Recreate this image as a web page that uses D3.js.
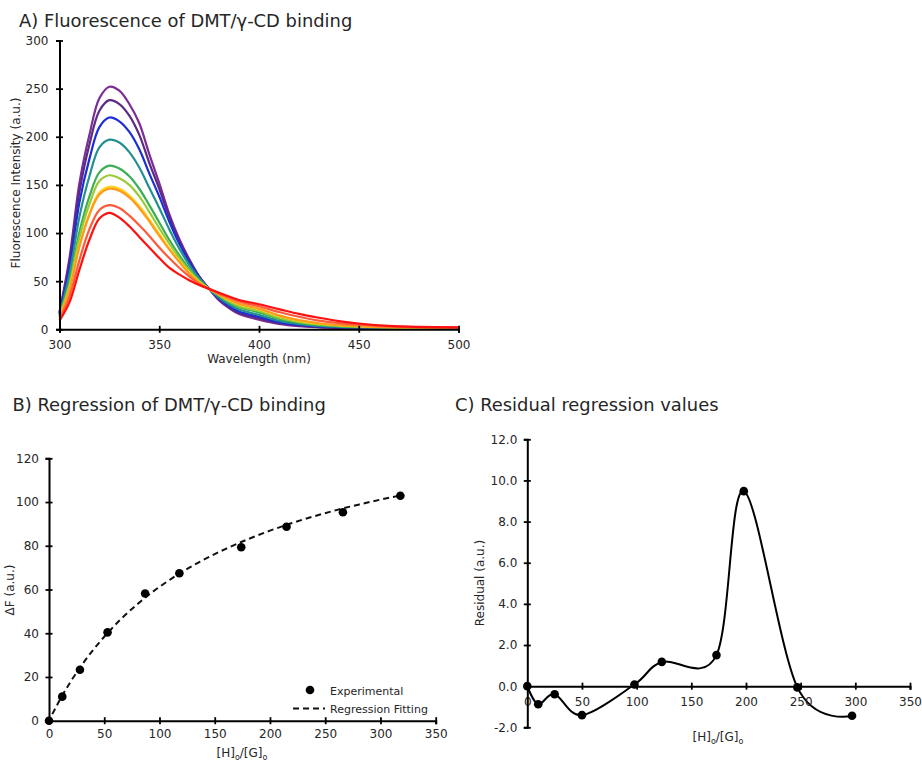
<!DOCTYPE html>
<html>
<head>
<meta charset="utf-8">
<script src="https://cdn.jsdelivr.net/npm/d3@7"></script>
<style>
body { margin: 0; background: #fff; }
text { font-family: "DejaVu Sans", sans-serif; fill: #262626; }
</style>
</head>
<body>
<svg id="visu" width="922" height="763"></svg>
<script>
// ---- panel A: emission spectra ----
var wavelengths = [300,305,310,315,320,325,330,335,340,345,350,355,360,365,370,375,380,385,390,400,410,420,430,440,450,465,480,500];
var spec1  = [18,74,152,202,240,252,248,234,214,182,152,120,94,73,55,42,30,22,16,10,5.5,3.2,2.1,1.5,1.2,1.0,0.8,0.6];
var spec2  = [17,70,143,192,227,238,234,222,202,173,146,117,92,72,55,42,31,23,17,11.5,6.5,3.8,2.5,1.8,1.4,1.1,0.9,0.7];
var spec3  = [16,64,132,177,210,220,216,205,187,162,138,112,89,70,54,42,32,24,18.5,13,7.5,4.5,3,2.2,1.7,1.3,1.0,0.8];
var spec4  = [15,57,117,159,189,197,194,184,168,147,126,104,84,67,53,42,33,26,20.5,15,9,5.5,3.6,2.6,2.0,1.5,1.2,0.9];
var spec5  = [14,49,101,138,163,170,167,159,146,129,111,93,77,63,51,42,35,28,23,17.5,11,7,4.5,3.2,2.4,1.8,1.4,1.1];
var spec6  = [13,46,95,130,154,160,157,150,138,122,105,89,74,61,50,42,35.5,29,24,19,12,7.8,5,3.5,2.7,2.0,1.5,1.2];
var spec7  = [12,42,87,120,142,148,146,139,128,114,99,84,71,59,49,42,36,30.5,26,21,14,9,6,4.2,3.2,2.2,1.7,1.3];
var spec8  = [12,41,86,119,140,146,144,137,126,112,97,83,70,58,48.5,42,36,31,26.5,21.5,14.5,9.5,6.3,4.4,3.4,2.3,1.8,1.4];
var spec9  = [10,34,72,104,124,129,126,118,108,97,85,74,64,55,47,42,37,33,29,24,18,13,9,6.5,4.8,3,2.2,1.7];
var spec10 = [9,28,62,93,115,121,116,107,96,85,74,64,57,51,46,42,38,34,30.5,26,21,16,12,8.5,6,3.5,2.5,2];
var spectra = [spec1, spec2, spec3, spec4, spec5, spec6, spec7, spec8, spec9, spec10];
var specColors = ["#7b2c96","#5c2a84","#1c2fd6","#23908f","#3cae55","#99cc33","#ffd21f","#ff9a1a","#ff5a3a","#ff1010"];
var ticksA_x = [300,350,400,450,500];
var ticksA_y = [0,50,100,150,200,250,300];

// ---- panel B: binding data and fit ----
var ratioB = [0,12,28,53,87,118,174,215,266,318];
var deltaF = [0,11,23.3,40.4,58.2,67.4,79.3,88.7,95.3,102.9];
var fitX = [3,10,20,30,40,50,65,80,100,120,140,160,180,200,220,240,260,280,300,316];
var fitY = [3.0,9.7,18.2,25.7,32.4,38.4,46.4,53.3,61.2,67.9,73.6,78.6,83.0,86.9,90.4,93.5,96.3,98.8,101.1,102.8];
var ticksB_x = [0,50,100,150,200,250,300,350];
var ticksB_y = [0,20,40,60,80,100,120];

// ---- panel C: residuals ----
var ratioC = [0,10,25,50,98,123,173,198,247,297];
var residual = [0,-0.88,-0.39,-1.41,0.08,1.18,1.51,9.48,-0.06,-1.44];
var ticksC_x = [0,50,100,150,200,250,300,350];
var ticksC_y = [-2,0,2,4,6,8,10,12];

var vis = d3.select("#visu");

// ticks that cross the axis line, like the original
function styleAxis(g, side, pad) {
  g.select(".domain").attr("stroke", "#000").attr("stroke-width", 2);
  g.selectAll(".tick line").attr("stroke", "#000").attr("stroke-width", 1.8);
  g.selectAll(".tick text").attr("font-size", 12).attr("fill", "#262626");
  if (side == "bottom") {
    g.selectAll(".tick line").attr("y1", -3.5).attr("y2", 3.5);
    g.selectAll(".tick text").attr("y", pad);
  } else {
    g.selectAll(".tick line").attr("x1", -3.5).attr("x2", 3.5);
    g.selectAll(".tick text").attr("x", -pad);
  }
}

function subLabel(g, x, y) {
  var t = g.append("text").attr("x", x).attr("y", y).attr("text-anchor", "middle").attr("font-size", 12);
  t.append("tspan").text("[H]");
  t.append("tspan").attr("font-size", 8).attr("dy", 3).text("o");
  t.append("tspan").attr("dy", -3).text("/[G]");
  t.append("tspan").attr("font-size", 8).attr("dy", 3).text("o");
}

// ================= A =================
var xA = d3.scaleLinear().domain([300, 500]).range([59.5, 458.5]),
    yA = d3.scaleLinear().domain([0, 300]).range([329.3, 40.5]);

var lineA = d3.line()
  .x(function(d) { return xA(d[0]); })
  .y(function(d) { return yA(d[1]); })
  .curve(d3.curveCatmullRom);

spectra.forEach(function(s, i) {
  vis.append("path")
    .attr("d", lineA(s.map(function(v, j) { return [wavelengths[j], v]; })))
    .attr("fill", "none")
    .attr("stroke", specColors[i])
    .attr("stroke-width", 2.2);
});

var gAx = vis.append("g").attr("transform", "translate(0," + yA(0) + ")")
  .call(d3.axisBottom(xA).tickValues(ticksA_x).tickSizeOuter(0).tickSize(3.5));
styleAxis(gAx, "bottom", 11);
var gAy = vis.append("g").attr("transform", "translate(" + xA(300) + ",0)")
  .call(d3.axisLeft(yA).tickValues(ticksA_y).tickSizeOuter(0).tickSize(3.5));
styleAxis(gAy, "left", 11);

vis.append("text").attr("x", 19).attr("y", 26.5).attr("font-size", 17.9)
  .text("A) Fluorescence of DMT/γ-CD binding");
vis.append("text").attr("x", 259).attr("y", 363).attr("text-anchor", "middle").attr("font-size", 12)
  .text("Wavelength (nm)");
vis.append("text").attr("transform", "translate(19.5,183) rotate(-90)").attr("text-anchor", "middle").attr("font-size", 12)
  .text("Fluorescence Intensity (a.u.)");

// ================= B =================
var xB = d3.scaleLinear().domain([0, 350]).range([49, 435.7]),
    yB = d3.scaleLinear().domain([0, 120]).range([720.7, 458.3]);

var lineB = d3.line()
  .x(function(d) { return xB(d[0]); })
  .y(function(d) { return yB(d[1]); })
  .curve(d3.curveMonotoneX);

vis.append("path")
  .attr("d", lineB(fitX.map(function(x, i) { return [x, fitY[i]]; })))
  .attr("fill", "none")
  .attr("stroke", "#111")
  .attr("stroke-width", 2)
  .attr("stroke-dasharray", "6,4");

var gBx = vis.append("g").attr("transform", "translate(0," + yB(0) + ")")
  .call(d3.axisBottom(xB).tickValues(ticksB_x).tickSizeOuter(0).tickSize(3.5));
styleAxis(gBx, "bottom", 9);
var gBy = vis.append("g").attr("transform", "translate(" + xB(0) + ",0)")
  .call(d3.axisLeft(yB).tickValues(ticksB_y).tickSizeOuter(0).tickSize(3.5));
styleAxis(gBy, "left", 10);

vis.append("g").selectAll("circle")
  .data(ratioB)
  .enter().append("circle")
  .attr("cx", function(d) { return xB(d); })
  .attr("cy", function(d, i) { return yB(deltaF[i]); })
  .attr("r", 4.3)
  .attr("fill", "#000");

// legend
vis.append("circle").attr("cx", 310).attr("cy", 690).attr("r", 4.3).attr("fill", "#000");
vis.append("text").attr("x", 330).attr("y", 695).attr("font-size", 11).text("Experimental");
vis.append("line").attr("x1", 293).attr("x2", 325).attr("y1", 708.5).attr("y2", 708.5)
  .attr("stroke", "#111").attr("stroke-width", 2).attr("stroke-dasharray", "6,4");
vis.append("text").attr("x", 330).attr("y", 713).attr("font-size", 11).text("Regression Fitting");

vis.append("text").attr("x", 12.5).attr("y", 410.5).attr("font-size", 17.9)
  .text("B) Regression of DMT/γ-CD binding");
subLabel(vis, 242, 757);
vis.append("text").attr("transform", "translate(14,590) rotate(-90)").attr("text-anchor", "middle").attr("font-size", 12)
  .text("ΔF (a.u.)");

// ================= C =================
var xC = d3.scaleLinear().domain([0, 350]).range([527.3, 910]),
    yC = d3.scaleLinear().domain([-2, 12]).range([727.3, 439.3]);

// uniform Catmull-Rom, close to the spreadsheet's smoothed line
var lineC = d3.line()
  .x(function(d) { return xC(d[0]); })
  .y(function(d) { return yC(d[1]); })
  .curve(d3.curveCardinal.tension(0));

vis.append("path")
  .attr("d", lineC(ratioC.map(function(x, i) { return [x, residual[i]]; })))
  .attr("fill", "none")
  .attr("stroke", "#000")
  .attr("stroke-width", 2);

var gCx = vis.append("g").attr("transform", "translate(0," + yC(0) + ")")
  .call(d3.axisBottom(xC).tickValues(ticksC_x).tickSizeOuter(0).tickSize(3.5));
styleAxis(gCx, "bottom", 11);
var gCy = vis.append("g").attr("transform", "translate(" + xC(0) + ",0)")
  .call(d3.axisLeft(yC).tickValues(ticksC_y).tickSizeOuter(0).tickSize(3.5)
    .tickFormat(function(d) { return d.toFixed(1); }));
styleAxis(gCy, "left", 10);

vis.append("g").selectAll("circle")
  .data(ratioC)
  .enter().append("circle")
  .attr("cx", function(d) { return xC(d); })
  .attr("cy", function(d, i) { return yC(residual[i]); })
  .attr("r", 4.3)
  .attr("fill", "#000");

vis.append("text").attr("x", 455).attr("y", 410.5).attr("font-size", 17.9)
  .text("C) Residual regression values");
subLabel(vis, 718, 741);
vis.append("text").attr("transform", "translate(484,583) rotate(-90)").attr("text-anchor", "middle").attr("font-size", 12)
  .text("Residual (a.u.)");
</script>
</body>
</html>
